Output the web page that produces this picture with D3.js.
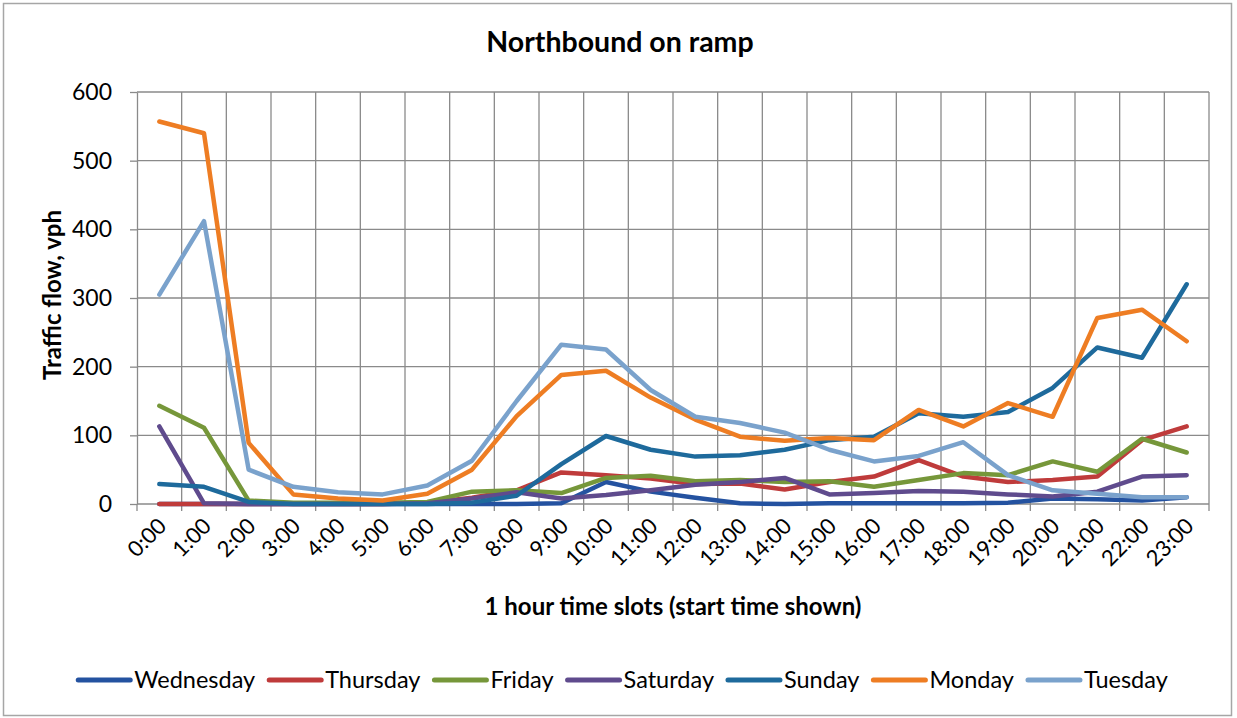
<!DOCTYPE html>
<html>
<head>
<meta charset="utf-8">
<script src="https://cdn.jsdelivr.net/npm/d3@7"></script>
<style>
  body { margin: 0; background: #fff; }
  svg { display: block; }
  text { font-family: Lato, "Open Sans", "DejaVu Sans", sans-serif; fill: #000; }
</style>
</head>
<body>
<svg id="chart" width="1237" height="718"></svg>
<script>
// ---------------- data ----------------
const hours = ["0:00","1:00","2:00","3:00","4:00","5:00","6:00","7:00","8:00","9:00","10:00","11:00",
               "12:00","13:00","14:00","15:00","16:00","17:00","18:00","19:00","20:00","21:00","22:00","23:00"];

const wednesday = [0,0,0,0,0,0,0,0,0,1,32,18,9,1,0,1,1,1,1,2,8,7,5,10];
const thursday  = [0,0,0,0,0,0,2,9,20,46,42,37,29,30,21,32,40,64,40,32,35,40,93,113];
const friday    = [143,111,5,2,2,2,3,18,20,16,38,41,33,35,32,33,25,35,45,42,62,47,95,75];
const saturday  = [113,1,0,0,0,0,1,8,17,8,13,20,28,32,38,14,16,19,18,14,11,18,40,42];
const sunday    = [29,25,3,0,0,0,0,2,12,58,99,79,69,71,79,93,98,132,127,134,169,228,213,320];
const monday    = [557,540,89,14,8,5,15,50,128,188,194,155,123,98,92,96,93,137,113,147,127,271,283,237];
const tuesday   = [305,412,50,25,17,14,27,63,150,232,225,166,127,118,104,79,62,70,90,42,20,15,10,10];

const seriesNames  = ["Wednesday","Thursday","Friday","Saturday","Sunday","Monday","Tuesday"];
const seriesValues = [wednesday, thursday, friday, saturday, sunday, monday, tuesday];
const seriesColors = ["#2452a0","#bf3b3b","#76973a","#5f4b8d","#1e6a9c","#ee7d23","#7aa2cc"];

const yTicks = [0,100,200,300,400,500,600];

const titleText  = "Northbound on ramp";
const xTitleText = "1 hour time slots (start time shown)";
const yTitleText = "Traffic flow, vph";

// ---------------- layout ----------------
const svg = d3.select("#chart");
const plot = { left: 137, right: 1209, top: 92, bottom: 504 };
const gridColor = "#8a8a8a";

svg.append("rect")
  .attr("x", 3.5).attr("y", 3.5).attr("width", 1228).attr("height", 712)
  .attr("fill", "#fff").attr("stroke", "#a6a6a6").attr("stroke-width", 1.5);

const x = d3.scaleBand().domain(hours).range([plot.left, plot.right]).padding(0);
const y = d3.scaleLinear().domain([0, 600]).range([plot.bottom, plot.top]);
const cx = h => x(h) + x.bandwidth() / 2;

// horizontal gridlines
svg.append("g").selectAll("line").data(yTicks.filter(d => d > 0)).join("line")
  .attr("x1", plot.left).attr("x2", plot.right)
  .attr("y1", d => y(d)).attr("y2", d => y(d))
  .attr("stroke", gridColor).attr("stroke-width", 1.3);

// vertical gridlines at category boundaries
const boundaries = hours.map(h => x(h) + x.bandwidth());
svg.append("g").selectAll("line").data(boundaries).join("line")
  .attr("x1", d => d).attr("x2", d => d)
  .attr("y1", plot.top).attr("y2", plot.bottom)
  .attr("stroke", gridColor).attr("stroke-width", 1.3);

// y axis
const yAxis = svg.append("g")
  .attr("transform", `translate(${plot.left},0)`)
  .call(d3.axisLeft(y).tickValues(yTicks).tickSize(7).tickSizeOuter(0).tickPadding(18));
yAxis.select(".domain").attr("stroke", gridColor).attr("stroke-width", 1.3);
yAxis.selectAll(".tick line").attr("stroke", gridColor).attr("stroke-width", 1.3);
yAxis.selectAll(".tick text")
  .attr("font-size", 23).attr("font-family", "Lato, sans-serif").attr("fill", "#000");

// x axis line + tick marks at boundaries
const xAxisG = svg.append("g");
xAxisG.append("line")
  .attr("x1", plot.left).attr("x2", plot.right)
  .attr("y1", plot.bottom).attr("y2", plot.bottom)
  .attr("stroke", gridColor).attr("stroke-width", 1.3);
xAxisG.selectAll("line.tk").data([plot.left].concat(boundaries)).join("line")
  .attr("class", "tk")
  .attr("x1", d => d).attr("x2", d => d)
  .attr("y1", plot.bottom).attr("y2", plot.bottom + 7)
  .attr("stroke", gridColor).attr("stroke-width", 1.3);

// x tick labels (rotated)
xAxisG.selectAll("text").data(hours).join("text")
  .attr("transform", h => `translate(${cx(h) + 3},${plot.bottom + 18}) rotate(-45)`)
  .attr("text-anchor", "end")
  .attr("dy", "0.35em")
  .attr("font-size", 22)
  .text(h => h);

// lines
const lineGen = d3.line().x((d, i) => cx(hours[i])).y(d => y(d));
svg.append("g").selectAll("path").data(seriesValues).join("path")
  .attr("d", d => lineGen(d))
  .attr("fill", "none")
  .attr("stroke", (d, i) => seriesColors[i])
  .attr("stroke-width", 4.5)
  .attr("stroke-linejoin", "round")
  .attr("stroke-linecap", "round");

// titles
svg.append("text").attr("x", 620).attr("y", 52).attr("text-anchor", "middle")
  .attr("font-size", 28.5).attr("font-weight", "bold").text(titleText);
svg.append("text").attr("x", (plot.left + plot.right) / 2).attr("y", 615).attr("text-anchor", "middle")
  .attr("font-size", 24).attr("font-weight", "bold").text(xTitleText);
svg.append("text").attr("transform", `translate(61,${(plot.top + plot.bottom) / 2 - 3}) rotate(-90)`)
  .attr("text-anchor", "middle")
  .attr("font-size", 24).attr("font-weight", "bold").text(yTitleText);

// legend
const legend = svg.append("g");
const lineLen = 52, lgap = 4, itemGap = 14, legY = 680;
const items = legend.selectAll("g").data(seriesNames).join("g");
items.append("line")
  .attr("x1", 0).attr("x2", lineLen).attr("y1", 0).attr("y2", 0)
  .attr("stroke", (d, i) => seriesColors[i]).attr("stroke-width", 5)
  .attr("stroke-linecap", "round");
items.append("text")
  .attr("x", lineLen + lgap).attr("y", 0).attr("dy", "0.35em")
  .attr("font-size", 23.5).text(d => d);
let widths = [];
items.each(function() { widths.push(this.getBBox().width); });
const total = d3.sum(widths) + itemGap * (widths.length - 1);
let pos = 623 - total / 2;
items.attr("transform", (d, i) => {
  const t = `translate(${pos},${legY})`;
  pos += widths[i] + itemGap;
  return t;
});
</script>
</body>
</html>
